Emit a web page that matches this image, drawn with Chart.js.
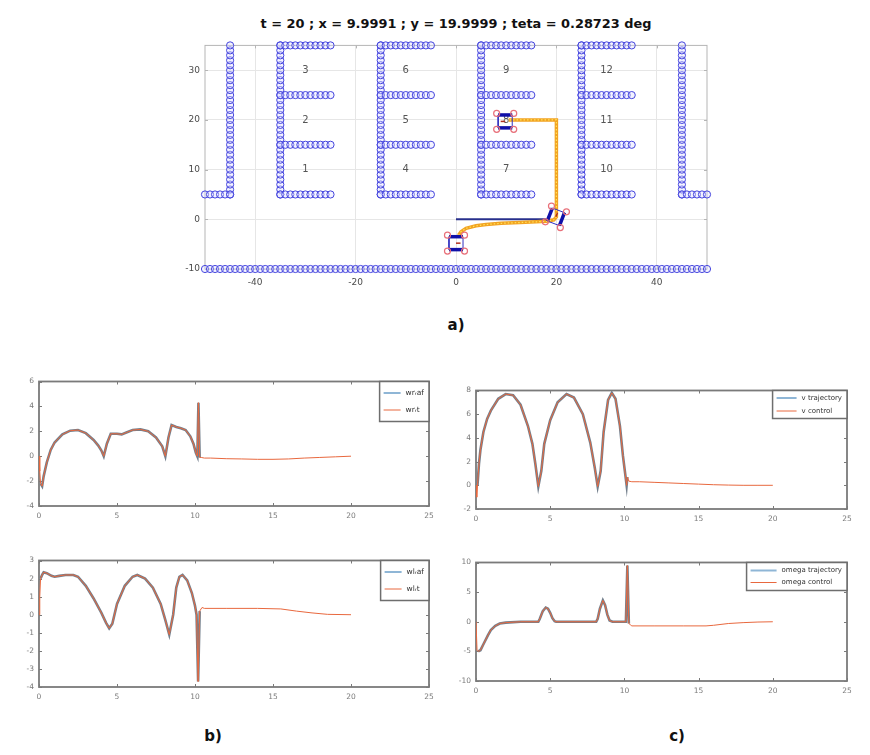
<!DOCTYPE html>
<html>
<head>
<meta charset="utf-8">
<script src="https://cdn.jsdelivr.net/npm/chart.js@4.4.1/dist/chart.umd.min.js"></script>
<style>
    body {
        margin: 0;
        background: #fff;
        width: 870px;
        height: 755px;
        position: relative;
        overflow: hidden;
        font-family: 'DejaVu Sans', sans-serif;
    }
    canvas {
        position: absolute;
    }
    .lbl {
        position: absolute;
        font-weight: bold;
        color: #111;
        transform: translate(-50%, -50%);
        white-space: nowrap;
    }
</style>
</head>
<body>
<div class="lbl" style="left:456px; top:23px; font-size:12.9px;">t = 20 ; x = 9.9991 ; y = 19.9999 ; teta = 0.28723 deg</div>
<canvas id="mapChart"></canvas>
<div class="lbl" style="left:456px; top:325px; font-size:15px;">a)</div>
<canvas id="wrChart"></canvas>
<canvas id="wlChart"></canvas>
<canvas id="vChart"></canvas>
<canvas id="omegaChart"></canvas>
<div class="lbl" style="left:213px; top:736px; font-size:15px;">b)</div>
<div class="lbl" style="left:677px; top:736px; font-size:15px;">c)</div>

<script>
'use strict';

// ---------- map (a) ----------
var mapXTicks = [-40, -20, 0, 20, 40];
var mapYTicks = [-10, 0, 10, 20, 30];

// obstacle walls: x1, y1, x2, y2 (one circle every unit)
var walls = [
    [-50, -10, 50, -10],
    [-45, 5, -45, 35], [-50, 5, -45, 5],
    [-35, 5, -35, 35], [-35, 5, -25, 5], [-35, 15, -25, 15], [-35, 25, -25, 25], [-35, 35, -25, 35],
    [-15, 5, -15, 35], [-15, 5, -5, 5], [-15, 15, -5, 15], [-15, 25, -5, 25], [-15, 35, -5, 35],
    [5, 5, 5, 35], [5, 5, 15, 5], [5, 15, 15, 15], [5, 25, 15, 25], [5, 35, 15, 35],
    [25, 5, 25, 35], [25, 5, 35, 5], [25, 15, 35, 15], [25, 25, 35, 25], [25, 35, 35, 35],
    [45, 5, 45, 35], [45, 5, 50, 5],
];

var cellText = ['1', '2', '3', '4', '5', '6', '7', '8', '9', '10', '11', '12'];
var cellX = [-30, -30, -30, -10, -10, -10, 10, 10, 10, 30, 30, 30];
var cellY = [10, 20, 30, 10, 20, 30, 10, 20, 30, 10, 20, 30];

var refLineX = [0, 18];
var refLineY = [0, 0];

var pathX = [0.5, 1, 2, 4, 6, 9, 12.7, 16, 18, 19.5, 20, 20, 20, 20, 20, 20, 18, 15, 12, 10.5];
var pathY = [-3.2, -2.5, -1.8, -1.3, -1.05, -0.8, -0.65, -0.5, -0.4, -0.1, 0.5, 5, 10, 15, 19, 20, 20, 20, 20, 20];

var robotX = [0, 19.9, 9.8];
var robotY = [-4.8, 0.5, 19.7];
var robotTheta = [0, 69, 180];

// ---------- time responses (b, c) ----------
var timeTicks = [0, 5, 10, 15, 20, 25];

var wrTime = [0.1, 0.2, 0.3, 0.5, 0.75, 1.0, 1.5, 2.0, 2.5, 3.0, 3.5, 3.8, 4.0, 4.15, 4.35, 4.6, 5.0, 5.3, 5.6, 6.0, 6.5, 7.0, 7.5, 7.9, 8.1, 8.3, 8.5, 8.8, 9.1, 9.4, 9.7, 9.9, 10.05, 10.15, 10.22, 10.3];
var wrTraj = [-2.2, -2.4, -1.6, -0.5, 0.5, 1.1, 1.75, 2.05, 2.1, 1.85, 1.3, 0.85, 0.45, 0.0, 1.0, 1.8, 1.8, 1.75, 1.9, 2.1, 2.15, 2.0, 1.5, 0.8, 0.0, 1.5, 2.5, 2.35, 2.25, 2.1, 1.6, 1.0, 0.3, 0.0, 4.3, -0.1];
var wrHeadTime = [0, 0.05];
var wrHead = [0, -1.2];
var wrTailTime = [10.4, 10.6, 11, 12, 13, 14, 15, 16, 17, 18, 19, 20];
var wrTail = [-0.1, -0.15, -0.15, -0.2, -0.22, -0.25, -0.25, -0.22, -0.15, -0.1, -0.05, 0.0];

var wlTime = [0.1, 0.2, 0.3, 0.5, 0.8, 1.0, 1.3, 1.7, 2.2, 2.5, 3.0, 3.5, 4.0, 4.3, 4.5, 4.7, 5.0, 5.5, 6.0, 6.3, 6.8, 7.3, 7.8, 8.1, 8.35, 8.6, 8.8, 9.0, 9.2, 9.5, 9.8, 10.0, 10.1, 10.2, 10.3];
var wlTraj = [2.0, 2.2, 2.35, 2.3, 2.15, 2.1, 2.15, 2.2, 2.2, 2.1, 1.6, 0.9, 0.1, -0.45, -0.75, -0.5, 0.6, 1.6, 2.1, 2.2, 2.0, 1.5, 0.6, -0.3, -1.1, 0.0, 1.5, 2.1, 2.2, 1.9, 1.2, 0.5, 0.0, -3.7, 0.2];
var wlHeadTime = [0, 0.05];
var wlHead = [0, 1.0];
var wlTailTime = [10.45, 10.6, 12, 14, 15.5, 16.5, 17.5, 18.5, 20];
var wlTail = [0.4, 0.35, 0.35, 0.35, 0.32, 0.2, 0.1, 0.02, 0.0];

var vTime = [0.1, 0.2, 0.3, 0.5, 0.75, 1.0, 1.5, 2.0, 2.5, 3.0, 3.5, 3.8, 4.0, 4.2, 4.4, 4.6, 5.0, 5.5, 6.1, 6.6, 7.2, 7.7, 8.0, 8.2, 8.4, 8.6, 8.9, 9.15, 9.4, 9.7, 9.9, 10.1, 10.15, 10.2];
var vTraj = [0.0, 1.8, 3.0, 4.5, 5.6, 6.3, 7.3, 7.7, 7.6, 6.8, 5.0, 3.5, 1.8, -0.1, 1.2, 3.5, 5.5, 7.0, 7.7, 7.4, 6.0, 3.6, 1.5, -0.1, 1.2, 4.5, 7.2, 7.8, 7.3, 5.0, 2.5, 0.5, 0.0, 0.7];
var vHeadTime = [0, 0.05];
var vHead = [0, -1.0];
var vTailTime = [10.3, 10.5, 11, 12, 13, 14, 15, 16, 17, 18, 19, 20];
var vTail = [0.35, 0.3, 0.3, 0.25, 0.2, 0.15, 0.1, 0.05, 0.02, 0.0, 0.0, 0.0];

var omegaTime = [0.15, 0.3, 0.5, 0.8, 1.0, 1.3, 1.6, 2.0, 3.0, 4.2, 4.3, 4.5, 4.7, 4.85, 5.0, 5.15, 5.3, 5.4, 8.1, 8.2, 8.35, 8.55, 8.7, 8.85, 9.0, 9.2, 10.1, 10.2, 10.3];
var omegaTraj = [-5.0, -4.8, -3.8, -2.3, -1.4, -0.7, -0.3, -0.15, 0.0, 0.0, 0.5, 1.8, 2.4, 2.2, 1.5, 0.6, 0.1, 0.0, 0.0, 0.5, 2.2, 3.6, 2.8, 1.2, 0.2, 0.0, 0.0, 9.5, -0.3];
var omegaHeadTime = [0, 0.07];
var omegaHead = [0, -4.8];
var omegaTailTime = [10.4, 10.5, 12, 14, 15.5, 16, 17, 18, 19, 20];
var omegaTail = [-0.5, -0.7, -0.7, -0.7, -0.7, -0.6, -0.3, -0.15, -0.05, 0.0];

// ---------- helpers ----------
var FONT = "'DejaVu Sans', sans-serif";

function pairs(xs, ys) {
    return xs.map(function (x, i) {
        return { x: x, y: ys[i] };
    });
}

function placeCanvas(id, area, pad) {
    var cv = document.getElementById(id);
    var w = area.r - area.l + pad.l + pad.r;
    var h = area.b - area.t + pad.t + pad.b;
    cv.width = w;
    cv.height = h;
    cv.style.left = area.l - pad.l + 'px';
    cv.style.top = area.t - pad.t + 'px';
    cv.style.width = w + 'px';
    cv.style.height = h + 'px';
    return cv;
}

function axis(min, max, ticks, size, font, color, padding, gridColor) {
    return {
        type: 'linear',
        min: min,
        max: max,
        afterBuildTicks: function (s) {
            s.ticks = ticks.map(function (v) {
                return { value: v };
            });
        },
        afterFit: function (s) {
            if (s.isHorizontal()) s.height = size;
            else s.width = size;
        },
        grid: gridColor
            ? { color: gridColor, drawTicks: false }
            : { display: false, drawTicks: false },
        border: { display: false },
        ticks: {
            font: font,
            color: color,
            padding: padding,
            maxRotation: 0,
            autoSkip: false,
        },
    };
}

// MATLAB-like box with inward ticks on all sides
var boxPlugin = {
    id: 'matlabBox',
    beforeDatasetsDraw: function (chart, args, opts) {
        var a = chart.chartArea;
        var ctx = chart.ctx;
        var xs = chart.scales.x;
        var ys = chart.scales.y;
        ctx.save();
        ctx.strokeStyle = opts.color;
        ctx.lineWidth = 1;
        ctx.beginPath();
        xs.ticks.forEach(function (t) {
            var px = Math.round(xs.getPixelForValue(t.value)) + 0.5;
            ctx.moveTo(px, a.bottom);
            ctx.lineTo(px, a.bottom - opts.tick);
            ctx.moveTo(px, a.top);
            ctx.lineTo(px, a.top + opts.tick);
        });
        ys.ticks.forEach(function (t) {
            var py = Math.round(ys.getPixelForValue(t.value)) + 0.5;
            ctx.moveTo(a.left, py);
            ctx.lineTo(a.left + opts.tick, py);
            ctx.moveTo(a.right, py);
            ctx.lineTo(a.right - opts.tick, py);
        });
        ctx.stroke();
        ctx.lineWidth = opts.width;
        ctx.strokeRect(a.left, a.top, a.right - a.left, a.bottom - a.top);
        ctx.restore();
    },
};

// legend drawn inside the axes, top right
var boxLegend = {
    id: 'boxLegend',
    afterDatasetsDraw: function (chart, args, opts) {
        if (!opts.items) return;
        var ctx = chart.ctx;
        var a = chart.chartArea;
        ctx.save();
        ctx.font = opts.fontSize + 'px ' + FONT;
        var tw = Math.max.apply(null, opts.items.map(function (it) {
            return ctx.measureText(it.text).width;
        }));
        var w = 4 + opts.lineLen + 5 + tw + 5;
        var h = opts.padTop * 2 + opts.rowH * opts.items.length;
        var x0 = a.right - w;
        var y0 = a.top;
        ctx.fillStyle = '#fff';
        ctx.fillRect(x0, y0, w, h);
        ctx.strokeStyle = '#6e6e6e';
        ctx.lineWidth = 1.5;
        ctx.strokeRect(x0, y0, w, h);
        ctx.textBaseline = 'middle';
        opts.items.forEach(function (it, i) {
            var cy = y0 + opts.padTop + opts.rowH * (i + 0.5);
            ctx.strokeStyle = it.color;
            ctx.lineWidth = it.width;
            ctx.beginPath();
            ctx.moveTo(x0 + 4, cy);
            ctx.lineTo(x0 + 4 + opts.lineLen, cy);
            ctx.stroke();
            ctx.fillStyle = '#333';
            ctx.fillText(it.text, x0 + 4 + opts.lineLen + 5, cy);
        });
        ctx.restore();
    },
};

// cell numbers on the map
var cellLabels = {
    id: 'cellLabels',
    beforeDatasetsDraw: function (chart) {
        var ctx = chart.ctx;
        ctx.save();
        ctx.font = '10px ' + FONT;
        ctx.fillStyle = '#555';
        ctx.textAlign = 'center';
        ctx.textBaseline = 'middle';
        cellText.forEach(function (t, i) {
            ctx.fillText(t, chart.scales.x.getPixelForValue(cellX[i]), chart.scales.y.getPixelForValue(cellY[i]));
        });
        ctx.restore();
    },
};

// ---------- map chart ----------
var obstaclePts = [];
walls.forEach(function (w) {
    var n = Math.max(Math.abs(w[2] - w[0]), Math.abs(w[3] - w[1]));
    for (var k = 0; k <= n; k++) {
        obstaclePts.push({ x: w[0] + ((w[2] - w[0]) * k) / n, y: w[1] + ((w[3] - w[1]) * k) / n });
    }
});

function robotPoint(i, along, side) {
    var th = (robotTheta[i] * Math.PI) / 180;
    return {
        x: robotX[i] + along * Math.cos(th) - side * Math.sin(th),
        y: robotY[i] + along * Math.sin(th) + side * Math.cos(th),
    };
}

var robotSets = [];
var cornerPts = [];
robotX.forEach(function (_, i) {
    robotSets.push({
        data: [robotPoint(i, 0, 0), robotPoint(i, 0.9, 0)],
        borderColor: '#b03020',
        borderWidth: 1.5,
    });
    robotSets.push({
        data: [robotPoint(i, -1.4, 1.3), robotPoint(i, 1.4, 1.3)],
        borderColor: '#1010a8',
        borderWidth: 3.5,
    });
    robotSets.push({
        data: [robotPoint(i, -1.4, -1.3), robotPoint(i, 1.4, -1.3)],
        borderColor: '#1010a8',
        borderWidth: 3.5,
    });
    robotSets.push({
        data: [robotPoint(i, -1.4, 1.3), robotPoint(i, -1.4, -1.3), robotPoint(i, 1.4, -1.3), robotPoint(i, 1.4, 1.3), robotPoint(i, -1.4, 1.3)],
        borderColor: '#3030c0',
        borderWidth: 1,
    });
    [[-1.7, 1.6], [1.7, 1.6], [1.7, -1.6], [-1.7, -1.6]].forEach(function (c) {
        cornerPts.push(robotPoint(i, c[0], c[1]));
    });
});
robotSets.forEach(function (d) {
    d.showLine = true;
    d.pointRadius = 0;
    d.clip = false;
});

var mapArea = { l: 205, t: 43, r: 707, b: 269 };
var mapTickFont = { family: FONT, size: 9 };

new Chart(placeCanvas('mapChart', mapArea, { l: 40, t: 8, r: 10, b: 24 }), {
    type: 'scatter',
    data: {
        datasets: [
            {
                data: cornerPts,
                pointRadius: 3,
                pointBorderColor: '#e8707a',
                pointBackgroundColor: 'rgba(255,255,255,0)',
                pointBorderWidth: 1.2,
                clip: false,
            },
        ]
            .concat(robotSets)
            .concat([
                {
                    data: pairs(pathX, pathY),
                    showLine: true,
                    pointRadius: 0,
                    borderColor: '#ffe45a',
                    borderWidth: 1.2,
                    borderDash: [1.5, 2],
                },
                {
                    data: pairs(pathX, pathY),
                    showLine: true,
                    pointRadius: 0,
                    borderColor: '#f2a322',
                    borderWidth: 3.5,
                },
                {
                    data: pairs(refLineX, refLineY),
                    showLine: true,
                    pointRadius: 0,
                    borderColor: '#28308c',
                    borderWidth: 2,
                },
                {
                    data: obstaclePts,
                    pointRadius: 3.6,
                    pointBorderColor: '#4343dd',
                    pointBackgroundColor: 'rgba(220,220,255,0.35)',
                    pointBorderWidth: 1,
                    clip: false,
                },
            ]),
    },
    options: {
        responsive: false,
        animation: false,
        events: [],
        layout: { padding: { left: 0, top: 8, right: 10, bottom: 0 } },
        scales: {
            x: axis(-50, 50, mapXTicks, 24, mapTickFont, '#4a4a4a', 8, '#e6e6e6'),
            y: axis(-10, 35, mapYTicks, 40, mapTickFont, '#4a4a4a', 5, '#e6e6e6'),
        },
        plugins: {
            legend: { display: false },
            tooltip: { enabled: false },
            matlabBox: { color: '#b5b5b5', width: 1, tick: 3 },
        },
    },
    plugins: [boxPlugin, cellLabels],
});

// ---------- response charts ----------
var smallFont = { family: FONT, size: 7.5 };
var trajColor = '#737f8c';
var ctrlColor = '#e8683e';

function responseChart(id, area, yMin, yMax, yTicks, traj, ctrl, names, legendOpts) {
    legendOpts.items = [
        { text: names[0], color: '#8fb6d6', width: 2 },
        { text: names[1], color: ctrlColor, width: 1 },
    ];
    return new Chart(placeCanvas(id, area, { l: 40, t: 8, r: 12, b: 20 }), {
        type: 'scatter',
        data: {
            datasets: [
                {
                    label: names[1],
                    data: ctrl,
                    showLine: true,
                    pointRadius: 0,
                    borderColor: ctrlColor,
                    borderWidth: 1,
                },
                {
                    label: names[0],
                    data: traj,
                    showLine: true,
                    pointRadius: 0,
                    borderColor: trajColor,
                    borderWidth: 2.6,
                },
            ],
        },
        options: {
            responsive: false,
            animation: false,
            events: [],
            layout: { padding: { left: 0, top: 8, right: 12, bottom: 0 } },
            scales: {
                x: axis(0, 25, timeTicks, 20, smallFont, '#7a7a7a', 6),
                y: axis(yMin, yMax, yTicks, 40, smallFont, '#7a7a7a', 5),
            },
            plugins: {
                legend: { display: false },
                tooltip: { enabled: false },
                matlabBox: { color: '#7a7a7a', width: 1.8, tick: 3 },
                boxLegend: legendOpts,
            },
        },
        plugins: [boxPlugin, boxLegend],
    });
}

responseChart(
    'wrChart',
    { l: 39, t: 380, r: 429, b: 506 },
    -4, 6, [-4, -2, 0, 2, 4, 6],
    pairs(wrTime, wrTraj),
    pairs(wrHeadTime.concat(wrTime, wrTailTime), wrHead.concat(wrTraj, wrTail)),
    ['wrᵣaf', 'wrᵣt'],
    { fontSize: 7.5, lineLen: 17, rowH: 17, padTop: 3 }
);

responseChart(
    'wlChart',
    { l: 39, t: 559, r: 429, b: 687 },
    -4, 3, [-4, -3, -2, -1, 0, 1, 2, 3],
    pairs(wlTime, wlTraj),
    pairs(wlHeadTime.concat(wlTime, wlTailTime), wlHead.concat(wlTraj, wlTail)),
    ['wlᵣaf', 'wlᵣt'],
    { fontSize: 7.5, lineLen: 17, rowH: 17, padTop: 3 }
);

responseChart(
    'vChart',
    { l: 476, t: 389, r: 847, b: 509 },
    -2, 8, [-2, 0, 2, 4, 6, 8],
    pairs(vTime, vTraj),
    pairs(vHeadTime.concat(vTime, vTailTime), vHead.concat(vTraj, vTail)),
    ['v trajectory', 'v control'],
    { fontSize: 7, lineLen: 20, rowH: 13, padTop: 1 }
);

responseChart(
    'omegaChart',
    { l: 476, t: 561, r: 847, b: 681 },
    -10, 10, [-10, -5, 0, 5, 10],
    pairs(omegaTime, omegaTraj),
    pairs(omegaHeadTime.concat(omegaTime, omegaTailTime), omegaHead.concat(omegaTraj, omegaTail)),
    ['omega trajectory', 'omega control'],
    { fontSize: 7, lineLen: 26, rowH: 12, padTop: 2 }
);
</script>
</body>
</html>
